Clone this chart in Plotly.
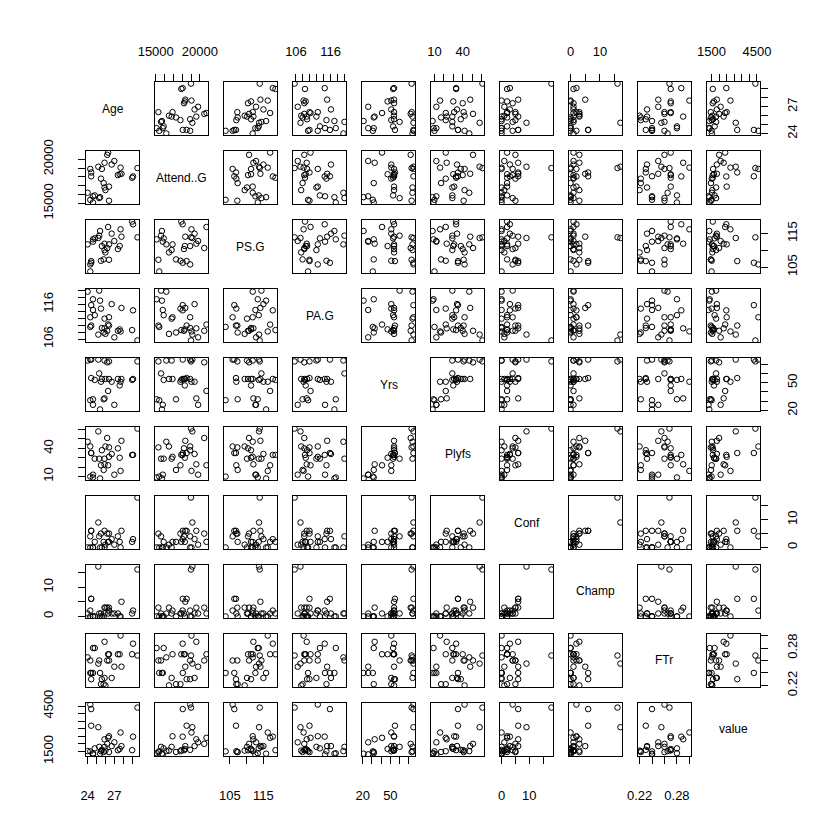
import plotly.graph_objects as go

# ---- data (NBA teams, one value per team) ----
names = ["Age", "Attend..G", "PS.G", "PA.G", "Yrs", "Plyfs", "Conf", "Champ", "FTr", "value"]

age = [24.0, 25.2, 26.4, 24.4, 24.3, 25.5, 26.3, 25.6, 26.4, 24.4, 29.1, 26.0, 27.7, 29.6, 24.6,
       25.9, 29.0, 24.6, 25.4, 24.3, 27.4, 25.8, 26.2, 24.8, 26.7, 25.9, 27.8, 27.0, 27.6, 25.3]
attend = [16200, 19150, 16900, 18500, 15400, 17800, 20750, 18900, 15300, 18064, 18050, 16500, 19050, 18997, 15800,
          19600, 17900, 15100, 15700, 18900, 18200, 17300, 20500, 15900, 19400, 16800, 18350, 19800, 18300, 15600]
ps_g = [111.8, 113.7, 111.8, 106.8, 103.7, 106.9, 117.0, 111.3, 107.2, 106.3, 117.8, 109.4, 116.3, 113.9, 112.6,
        112.0, 118.6, 113.3, 115.8, 105.8, 110.4, 107.3, 110.7, 113.6, 115.0, 110.1, 114.1, 112.8, 111.3, 114.4]
pa_g = [119.7, 107.3, 112.3, 109.9, 109.5, 114.8, 110.2, 109.2, 109.9, 115.8, 114.3, 107.5, 108.2, 105.6, 114.4,
        109.1, 108.6, 117.5, 117.1, 112.3, 108.4, 107.9, 108.4, 112.9, 116.1, 111.9, 115.0, 106.5, 108.8, 120.0]
yrs = [74, 75, 54, 55, 31, 51, 41, 54, 73, 75, 54, 54, 51, 73, 26,
       33, 53, 32, 21, 75, 54, 32, 72, 53, 51, 74, 54, 26, 47, 60]
plyfs = [47, 58, 31, 35, 10, 22, 22, 38, 41, 35, 33, 42, 16, 61, 12,
         23, 33, 9, 8, 42, 40, 17, 51, 29, 34, 29, 48, 12, 30, 29]
conf = [0, 9, 2, 6, 0, 5, 2, 0, 5, 6, 3, 1, 0, 18, 0,
        6, 2, 0, 0, 4, 4, 2, 5, 2, 3, 0, 6, 1, 2, 4]
champ = [1, 17, 2, 6, 0, 1, 1, 0, 3, 6, 2, 3, 0, 16, 0,
         3, 1, 0, 0, 2, 1, 0, 3, 0, 1, 1, 5, 1, 0, 1]
ftr = [0.265, 0.255, 0.270, 0.230, 0.240, 0.222, 0.270, 0.230, 0.260, 0.240, 0.287, 0.220, 0.300, 0.268, 0.240,
       0.290, 0.270, 0.280, 0.240, 0.260, 0.270, 0.222, 0.260, 0.280, 0.232, 0.232, 0.250, 0.250, 0.270, 0.260]
value = [1520, 3100, 2500, 3200, 1500, 1510, 2400, 1600, 1450, 4300, 2475, 1550, 2750, 4400, 1300,
         2300, 1580, 1375, 1350, 4600, 1575, 1460, 2000, 1700, 1850, 1800, 1850, 2100, 1660, 1800]

# tick positions and the labels R keeps after dropping overlapping ones
tick_vals = [
    [24, 25, 26, 27, 28, 29],
    [15000, 16000, 17000, 18000, 19000, 20000],
    [105, 110, 115],
    [106, 108, 110, 112, 114, 116, 118, 120],
    [20, 30, 40, 50, 60, 70],
    [10, 20, 30, 40, 50, 60],
    [0, 5, 10, 15],
    [0, 5, 10, 15],
    [0.22, 0.24, 0.26, 0.28, 0.30],
    [1500, 2000, 2500, 3000, 3500, 4000, 4500],
]
tick_text = [
    ["24", "", "", "27", "", ""],
    ["15000", "", "", "", "", "20000"],
    ["105", "", "115"],
    ["106", "", "", "", "", "116", "", ""],
    ["20", "", "", "50", "", ""],
    ["10", "", "", "40", "", ""],
    ["0", "", "10", ""],
    ["0", "", "10", ""],
    ["0.22", "", "", "0.28", ""],
    ["1500", "", "", "", "", "", "4500"],
]

cols = [age, attend, ps_g, pa_g, yrs, plyfs, conf, champ, ftr, value]
n = len(names)

# ---- geometry (pixels in an 840 x 840 page) ----
S = 840.0
P0 = 71.0
PITCH = 71.37
W = 55.7
FONT = "Arial, Liberation Sans, sans-serif"
TICKFONT = dict(family=FONT, size=13, color="black")


def rng(v):
    lo, hi = min(v), max(v)
    d = hi - lo
    return [lo - 0.04 * d, hi + 0.04 * d]


fig = go.Figure()
layout = dict(
    width=840, height=840, autosize=False,
    margin=dict(l=0, r=0, t=0, b=0),
    paper_bgcolor="white", plot_bgcolor="white",
    showlegend=False,
    font=dict(family=FONT, size=12, color="black"),
)
annotations = []

for i in range(n):
    for j in range(n):
        k = i * n + j + 1
        xname = "x" if k == 1 else f"x{k}"
        yname = "y" if k == 1 else f"y{k}"
        xkey = "xaxis" if k == 1 else f"xaxis{k}"
        ykey = "yaxis" if k == 1 else f"yaxis{k}"
        x0 = P0 + j * PITCH
        top = P0 + i * PITCH
        base = dict(showgrid=False, zeroline=False, showline=True, mirror=True,
                    linecolor="black", linewidth=1, ticks="", showticklabels=False,
                    fixedrange=True)
        xa = dict(base, domain=[x0 / S, (x0 + W) / S], anchor=yname)
        ya = dict(base, domain=[1 - (top + W) / S, 1 - top / S], anchor=xname)
        if i == j:
            xa["range"] = [0, 1]
            ya["range"] = [0, 1]
            annotations.append(dict(
                x=(x0 + W / 2) / S, y=1 - (top + W / 2) / S, xref="paper", yref="paper",
                text=names[i], showarrow=False, font=dict(family=FONT, size=12, color="black"),
                xanchor="center", yanchor="middle"))
        else:
            xa["range"] = rng(cols[j])
            ya["range"] = rng(cols[i])
            fig.add_trace(go.Scatter(
                x=cols[j], y=cols[i], mode="markers", xaxis=xname, yaxis=yname,
                marker=dict(symbol="circle-open", size=5.5, color="black", line=dict(width=1)),
                hoverinfo="skip"))
        # R pairs axes: top for even columns, bottom for odd, left for even rows, right for odd
        tick_common = dict(ticks="outside", ticklen=7, tickcolor="black", tickwidth=1,
                           showticklabels=True, tickfont=TICKFONT)
        if i == 0 and j % 2 == 1:
            xa.update(tick_common, side="top", tickvals=tick_vals[j], ticktext=tick_text[j],
                      ticklabelstandoff=12)
        if i == n - 1 and j % 2 == 0:
            xa.update(tick_common, side="bottom", tickvals=tick_vals[j], ticktext=tick_text[j],
                      ticklabelstandoff=20)
        if j == 0 and i % 2 == 1:
            ya.update(tick_common, side="left", tickvals=tick_vals[i], ticktext=tick_text[i],
                      tickangle=-90, ticklabelstandoff=19)
        if j == n - 1 and i % 2 == 0:
            ya.update(tick_common, side="right", tickvals=tick_vals[i], ticktext=tick_text[i],
                      tickangle=-90, ticklabelstandoff=13)
        layout[xkey] = xa
        layout[ykey] = ya

layout["annotations"] = annotations
fig.update_layout(**layout)
fig.write_html("out.html")
